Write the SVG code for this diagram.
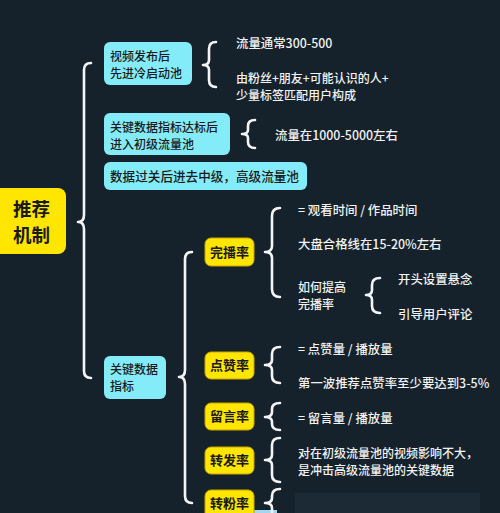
<svg xmlns="http://www.w3.org/2000/svg" width="500" height="513" viewBox="0 0 500 513">
<style>
.t{font-family:"Noto Sans CJK SC","Noto Sans",sans-serif;font-size:12.4px;font-weight:500;fill:#f2f2f2}
.t2{font-family:"Noto Sans CJK SC","Noto Sans",sans-serif;font-size:12px;font-weight:500;fill:#f2f2f2}
.nt{font-family:"Noto Sans CJK SC","Noto Sans",sans-serif;font-size:12px;font-weight:500;fill:#1a1a1a}
.nt1{font-family:"Noto Sans CJK SC","Noto Sans",sans-serif;font-size:12.6px;font-weight:500;fill:#1a1a1a}
.yt{font-family:"Noto Sans CJK SC","Noto Sans",sans-serif;font-size:13px;font-weight:bold;fill:#1a1a1a}
.cy{fill:#84ecf8}
.ye{fill:#ffe600;stroke:#c9a400;stroke-width:1}
.br{fill:none;stroke:#f4f4f4;stroke-width:2.6;stroke-linecap:round;stroke-linejoin:round}
</style>
<rect width="500" height="513" fill="#15222b"/>
<rect x="295" y="493" width="185" height="20" fill="#1b2a34"/>
<rect x="232" y="510" width="45" height="3" fill="#9fd8f0"/>
<g id="connectors">
<path class="br" d="M91,63 Q84,63 84,70 L84,215 Q84,222 78,222 Q84,222 84,229 L84,371 Q84,378 91,378"/>
<path class="br" d="M192,252 Q185,252 185,259 L185,370 Q185,377 179,377 Q185,377 185,384 L185,496 Q185,503 192,503"/>
<path class="br" d="M216,42 Q209,42 209,49 L209,60 Q209,65 203,65 Q209,65 209,70 L209,80 Q209,87 216,87"/>
<path class="br" d="M255,120 Q248,120 248,126 L248,130 Q248,134 242,134 Q248,134 248,138 L248,142 Q248,148 255,148"/>
<path class="br" d="M280,208 Q272,208 272,216 L272,246 Q272,252 265,252 Q272,252 272,258 L272,289 Q272,297 280,297"/>
<path class="br" d="M380,278 Q372,278 372,285 L372,290 Q372,295 366,295 Q372,295 372,300 L372,306 Q372,313 380,313"/>
<path class="br" d="M280,347 Q272,347 272,354 L272,360 Q272,365 265,365 Q272,365 272,370 L272,376 Q272,383 280,383"/>
<path class="br" d="M280,403 Q272,403 272,409 L272,412 Q272,417 265,417 Q272,417 272,422 L272,424 Q272,430 280,430"/>
<path class="br" d="M280,438 Q272,438 272,445 L272,455 Q272,460 265,460 Q272,460 272,465 L272,475 Q272,482 280,482"/>
<path class="br" d="M280,489 Q272,489 272,496 L272,498 Q272,503 265,503 Q272,503 272,508 L272,516"/>
</g>
<g id="root">
<rect x="-8" y="188" width="74" height="66" rx="8" fill="#ffe600"/>
<text font-family="'Noto Sans CJK SC',sans-serif" font-size="18.5" font-weight="bold" fill="#1a1a1a"><tspan x="13" y="216">推荐</tspan><tspan x="13" y="242">机制</tspan></text>
</g>
<g id="n-cold">
<rect class="cy" x="104" y="42" width="88" height="43" rx="6"/>
<text class="nt"><tspan x="110" y="60.5">视频发布后</tspan><tspan x="110" y="78">先进冷启动池</tspan></text>
</g>
<g id="n-cold-detail">
<text class="t" x="236" y="48">流量通常300-500</text>
<text class="t2"><tspan x="236" y="82.5">由粉丝+朋友+可能认识的人+</tspan><tspan x="236" y="100">少量标签匹配用户构成</tspan></text>
</g>
<g id="n-primary">
<rect class="cy" x="104" y="113" width="126" height="42" rx="6"/>
<text class="nt"><tspan x="110" y="131.5">关键数据指标达标后</tspan><tspan x="110" y="149">进入初级流量池</tspan></text>
</g>
<g id="n-primary-detail">
<text class="t" x="275" y="140">流量在1000-5000左右</text>
</g>
<g id="n-mid">
<rect class="cy" x="104" y="162" width="203" height="28" rx="6"/>
<text class="nt1" x="110" y="181">数据过关后进去中级，高级流量池</text>
</g>
<g id="n-key">
<rect class="cy" x="104" y="356" width="62" height="43" rx="6"/>
<text class="nt"><tspan x="110" y="373.5">关键数据</tspan><tspan x="110" y="391">指标</tspan></text>
</g>
<g id="n-wanbo">
<rect class="ye" x="205" y="238" width="49" height="28" rx="6"/>
<text class="yt" x="210" y="257">完播率</text>
</g>
<g id="n-wanbo-detail">
<text class="t" x="298" y="215">= 观看时间 / 作品时间</text>
<text class="t" x="298" y="249">大盘合格线在15-20%左右</text>
<text class="t2"><tspan x="298" y="291.5">如何提高</tspan><tspan x="298" y="309">完播率</tspan></text>
<text class="t" x="398" y="284">开头设置悬念</text>
<text class="t" x="398" y="319">引导用户评论</text>
</g>
<g id="n-dianzan">
<rect class="ye" x="205" y="352" width="49" height="27" rx="6"/>
<text class="yt" x="210" y="370">点赞率</text>
</g>
<g id="n-dianzan-detail">
<text class="t" x="298" y="354">= 点赞量 / 播放量</text>
<text class="t" x="298" y="388">第一波推荐点赞率至少要达到3-5%</text>
</g>
<g id="n-liuyan">
<rect class="ye" x="205" y="403" width="49" height="27" rx="6"/>
<text class="yt" x="210" y="421">留言率</text>
</g>
<g id="n-liuyan-detail">
<text class="t" x="298" y="423">= 留言量 / 播放量</text>
</g>
<g id="n-zhuanfa">
<rect class="ye" x="205" y="447" width="49" height="27" rx="6"/>
<text class="yt" x="210" y="465">转发率</text>
</g>
<g id="n-zhuanfa-detail">
<text class="t2"><tspan x="298" y="457.5">对在初级流量池的视频影响不大，</tspan><tspan x="298" y="475">是冲击高级流量池的关键数据</tspan></text>
</g>
<g id="n-zhuanfen">
<rect class="ye" x="205" y="490" width="49" height="30" rx="6"/>
<text class="yt" x="210" y="508">转粉率</text>
</g>
</svg>
